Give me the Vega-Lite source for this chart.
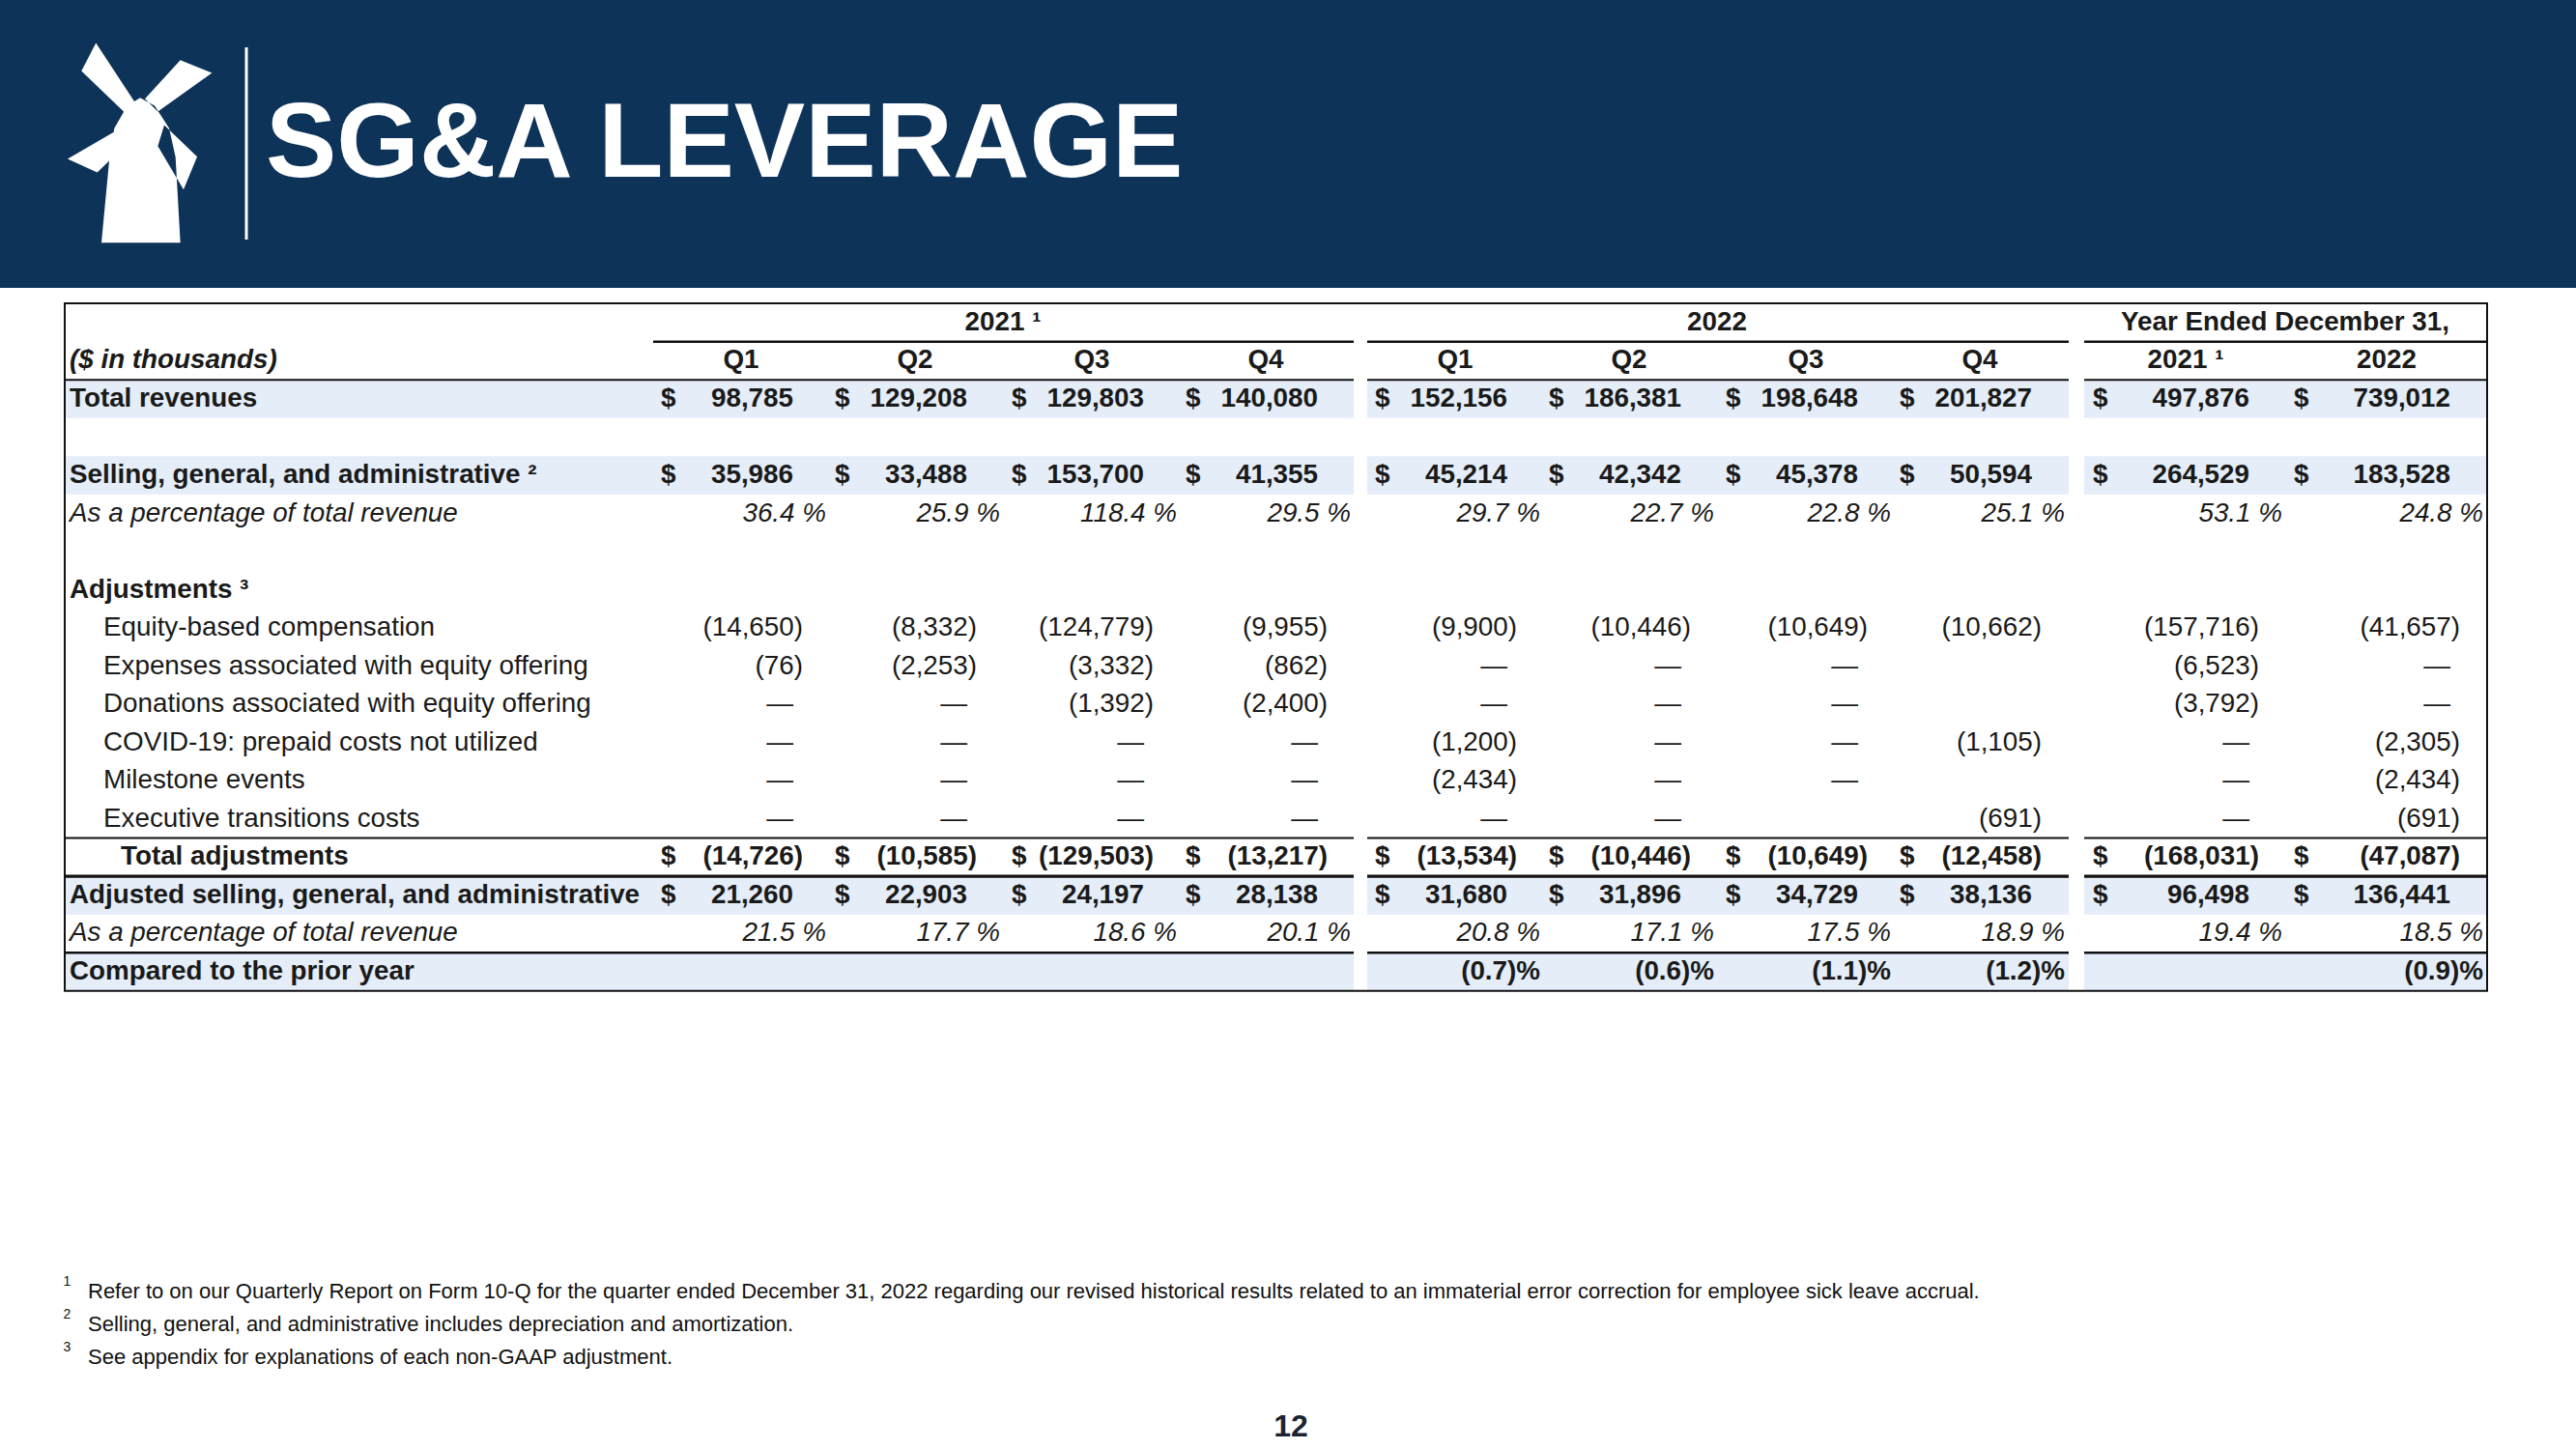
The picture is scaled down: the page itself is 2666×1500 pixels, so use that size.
{
"$schema": "https://vega.github.io/schema/vega-lite/v6.json",
"width": 2666,
"height": 1500,
"autosize": {"type": "none"},
"padding": 0,
"background": "#ffffff",
"config": {"view": {"stroke": null}, "text": {"font": "Liberation Sans", "color": "#1a1a1a", "fontSize": 27.8}},
"datasets": {
"bands": [
{"row": 1.5, "row2": 2.5, "col": 0, "col2": 4.4}, {"row": 1.5, "row2": 2.5, "col": 4.6, "col2": 8.4}, {"row": 1.5, "row2": 2.5, "col": 8.6, "col2": 10.5},
{"row": 3.5, "row2": 4.5, "col": 0, "col2": 4.4}, {"row": 3.5, "row2": 4.5, "col": 4.6, "col2": 8.4}, {"row": 3.5, "row2": 4.5, "col": 8.6, "col2": 10.5},
{"row": 14.5, "row2": 15.5, "col": 0, "col2": 4.4}, {"row": 14.5, "row2": 15.5, "col": 4.6, "col2": 8.4}, {"row": 14.5, "row2": 15.5, "col": 8.6, "col2": 10.5},
{"row": 16.5, "row2": 17.5, "col": 0, "col2": 4.4}, {"row": 16.5, "row2": 17.5, "col": 4.6, "col2": 8.4}, {"row": 16.5, "row2": 17.5, "col": 8.6, "col2": 10.5}
],
"lines": [
{"row": 0.5, "col": 0.8, "col2": 4.4}, {"row": 0.5, "col": 4.6, "col2": 8.4}, {"row": 0.5, "col": 8.6, "col2": 10.5},
{"row": 1.5, "col": 0, "col2": 4.4}, {"row": 1.5, "col": 4.6, "col2": 8.4}, {"row": 1.5, "col": 8.6, "col2": 10.5},
{"row": 13.5, "col": 0, "col2": 4.4}, {"row": 13.5, "col": 4.6, "col2": 8.4}, {"row": 13.5, "col": 8.6, "col2": 10.5},
{"row": 14.5, "col": 0, "col2": 4.4}, {"row": 14.5, "col": 4.6, "col2": 8.4}, {"row": 14.5, "col": 8.6, "col2": 10.5},
{"row": 16.5, "col": 0, "col2": 4.4}, {"row": 16.5, "col": 4.6, "col2": 8.4}, {"row": 16.5, "col": 8.6, "col2": 10.5}
],
"heads": [
{"row": 0, "col": 2, "t": "2021 ¹"}, {"row": 0, "col": 6, "t": "2022"}, {"row": 0, "col": 9, "t": "Year Ended December 31,"},
{"row": 1, "col": 1, "t": "Q1"}, {"row": 1, "col": 2, "t": "Q2"}, {"row": 1, "col": 3, "t": "Q3"}, {"row": 1, "col": 4, "t": "Q4"},
{"row": 1, "col": 5, "t": "Q1"}, {"row": 1, "col": 6, "t": "Q2"}, {"row": 1, "col": 7, "t": "Q3"}, {"row": 1, "col": 8, "t": "Q4"},
{"row": 1, "col": 9, "t": "2021 ¹"}, {"row": 1, "col": 10, "t": "2022"}
],
"labels": [
{"row": 1, "col": 0, "kind": "head", "t": "($ in thousands)"},
{"row": 2, "col": 0, "kind": "main", "t": "Total revenues"},
{"row": 4, "col": 0, "kind": "main", "t": "Selling, general, and administrative ²"},
{"row": 5, "col": 0, "kind": "pct", "t": "As a percentage of total revenue"},
{"row": 7, "col": 0, "kind": "main", "t": "Adjustments ³"},
{"row": 8, "col": 0, "kind": "item", "t": "Equity-based compensation"},
{"row": 9, "col": 0, "kind": "item", "t": "Expenses associated with equity offering"},
{"row": 10, "col": 0, "kind": "item", "t": "Donations associated with equity offering"},
{"row": 11, "col": 0, "kind": "item", "t": "COVID-19: prepaid costs not utilized"},
{"row": 12, "col": 0, "kind": "item", "t": "Milestone events"},
{"row": 13, "col": 0, "kind": "item", "t": "Executive transitions costs"},
{"row": 14, "col": 0, "kind": "total", "t": "Total adjustments"},
{"row": 15, "col": 0, "kind": "main", "t": "Adjusted selling, general, and administrative"},
{"row": 16, "col": 0, "kind": "pct", "t": "As a percentage of total revenue"},
{"row": 17, "col": 0, "kind": "main", "t": "Compared to the prior year"}
],
"cells": [
{"row": 2, "col": 1, "v": "98,785"}, {"row": 2, "col": 2, "v": "129,208"}, {"row": 2, "col": 3, "v": "129,803"}, {"row": 2, "col": 4, "v": "140,080"}, {"row": 2, "col": 5, "v": "152,156"}, {"row": 2, "col": 6, "v": "186,381"}, {"row": 2, "col": 7, "v": "198,648"}, {"row": 2, "col": 8, "v": "201,827"}, {"row": 2, "col": 9, "v": "497,876"}, {"row": 2, "col": 10, "v": "739,012"},
{"row": 4, "col": 1, "v": "35,986"}, {"row": 4, "col": 2, "v": "33,488"}, {"row": 4, "col": 3, "v": "153,700"}, {"row": 4, "col": 4, "v": "41,355"}, {"row": 4, "col": 5, "v": "45,214"}, {"row": 4, "col": 6, "v": "42,342"}, {"row": 4, "col": 7, "v": "45,378"}, {"row": 4, "col": 8, "v": "50,594"}, {"row": 4, "col": 9, "v": "264,529"}, {"row": 4, "col": 10, "v": "183,528"},
{"row": 5, "col": 1, "v": "36.4 %"}, {"row": 5, "col": 2, "v": "25.9 %"}, {"row": 5, "col": 3, "v": "118.4 %"}, {"row": 5, "col": 4, "v": "29.5 %"}, {"row": 5, "col": 5, "v": "29.7 %"}, {"row": 5, "col": 6, "v": "22.7 %"}, {"row": 5, "col": 7, "v": "22.8 %"}, {"row": 5, "col": 8, "v": "25.1 %"}, {"row": 5, "col": 9, "v": "53.1 %"}, {"row": 5, "col": 10, "v": "24.8 %"},
{"row": 8, "col": 1, "v": "(14,650)"}, {"row": 8, "col": 2, "v": "(8,332)"}, {"row": 8, "col": 3, "v": "(124,779)"}, {"row": 8, "col": 4, "v": "(9,955)"}, {"row": 8, "col": 5, "v": "(9,900)"}, {"row": 8, "col": 6, "v": "(10,446)"}, {"row": 8, "col": 7, "v": "(10,649)"}, {"row": 8, "col": 8, "v": "(10,662)"}, {"row": 8, "col": 9, "v": "(157,716)"}, {"row": 8, "col": 10, "v": "(41,657)"},
{"row": 9, "col": 1, "v": "(76)"}, {"row": 9, "col": 2, "v": "(2,253)"}, {"row": 9, "col": 3, "v": "(3,332)"}, {"row": 9, "col": 4, "v": "(862)"}, {"row": 9, "col": 5, "v": "—"}, {"row": 9, "col": 6, "v": "—"}, {"row": 9, "col": 7, "v": "—"}, {"row": 9, "col": 9, "v": "(6,523)"}, {"row": 9, "col": 10, "v": "—"},
{"row": 10, "col": 1, "v": "—"}, {"row": 10, "col": 2, "v": "—"}, {"row": 10, "col": 3, "v": "(1,392)"}, {"row": 10, "col": 4, "v": "(2,400)"}, {"row": 10, "col": 5, "v": "—"}, {"row": 10, "col": 6, "v": "—"}, {"row": 10, "col": 7, "v": "—"}, {"row": 10, "col": 9, "v": "(3,792)"}, {"row": 10, "col": 10, "v": "—"},
{"row": 11, "col": 1, "v": "—"}, {"row": 11, "col": 2, "v": "—"}, {"row": 11, "col": 3, "v": "—"}, {"row": 11, "col": 4, "v": "—"}, {"row": 11, "col": 5, "v": "(1,200)"}, {"row": 11, "col": 6, "v": "—"}, {"row": 11, "col": 7, "v": "—"}, {"row": 11, "col": 8, "v": "(1,105)"}, {"row": 11, "col": 9, "v": "—"}, {"row": 11, "col": 10, "v": "(2,305)"},
{"row": 12, "col": 1, "v": "—"}, {"row": 12, "col": 2, "v": "—"}, {"row": 12, "col": 3, "v": "—"}, {"row": 12, "col": 4, "v": "—"}, {"row": 12, "col": 5, "v": "(2,434)"}, {"row": 12, "col": 6, "v": "—"}, {"row": 12, "col": 7, "v": "—"}, {"row": 12, "col": 9, "v": "—"}, {"row": 12, "col": 10, "v": "(2,434)"},
{"row": 13, "col": 1, "v": "—"}, {"row": 13, "col": 2, "v": "—"}, {"row": 13, "col": 3, "v": "—"}, {"row": 13, "col": 4, "v": "—"}, {"row": 13, "col": 5, "v": "—"}, {"row": 13, "col": 6, "v": "—"}, {"row": 13, "col": 8, "v": "(691)"}, {"row": 13, "col": 9, "v": "—"}, {"row": 13, "col": 10, "v": "(691)"},
{"row": 14, "col": 1, "v": "(14,726)"}, {"row": 14, "col": 2, "v": "(10,585)"}, {"row": 14, "col": 3, "v": "(129,503)"}, {"row": 14, "col": 4, "v": "(13,217)"}, {"row": 14, "col": 5, "v": "(13,534)"}, {"row": 14, "col": 6, "v": "(10,446)"}, {"row": 14, "col": 7, "v": "(10,649)"}, {"row": 14, "col": 8, "v": "(12,458)"}, {"row": 14, "col": 9, "v": "(168,031)"}, {"row": 14, "col": 10, "v": "(47,087)"},
{"row": 15, "col": 1, "v": "21,260"}, {"row": 15, "col": 2, "v": "22,903"}, {"row": 15, "col": 3, "v": "24,197"}, {"row": 15, "col": 4, "v": "28,138"}, {"row": 15, "col": 5, "v": "31,680"}, {"row": 15, "col": 6, "v": "31,896"}, {"row": 15, "col": 7, "v": "34,729"}, {"row": 15, "col": 8, "v": "38,136"}, {"row": 15, "col": 9, "v": "96,498"}, {"row": 15, "col": 10, "v": "136,441"},
{"row": 16, "col": 1, "v": "21.5 %"}, {"row": 16, "col": 2, "v": "17.7 %"}, {"row": 16, "col": 3, "v": "18.6 %"}, {"row": 16, "col": 4, "v": "20.1 %"}, {"row": 16, "col": 5, "v": "20.8 %"}, {"row": 16, "col": 6, "v": "17.1 %"}, {"row": 16, "col": 7, "v": "17.5 %"}, {"row": 16, "col": 8, "v": "18.9 %"}, {"row": 16, "col": 9, "v": "19.4 %"}, {"row": 16, "col": 10, "v": "18.5 %"},
{"row": 17, "col": 5, "v": "(0.7)%"}, {"row": 17, "col": 6, "v": "(0.6)%"}, {"row": 17, "col": 7, "v": "(1.1)%"}, {"row": 17, "col": 8, "v": "(1.2)%"}, {"row": 17, "col": 10, "v": "(0.9)%"}
],
"notes": [
{"row": 18, "col": -5, "n": "1", "t": "Refer to  on our Quarterly Report on Form 10-Q for the quarter ended December 31, 2022 regarding our revised historical results related to an immaterial error correction for employee sick leave accrual."},
{"row": 19, "col": -5, "n": "2", "t": "Selling, general, and administrative includes depreciation and amortization."},
{"row": 20, "col": -5, "n": "3", "t": "See appendix for explanations of each non-GAAP adjustment."}
]
},
"encoding": {
"x": {"field": "col", "type": "quantitative", "axis": null, "scale": {"type": "linear", "zero": false, "nice": false,
 "domain": [-8, -7, -6, -5, -4, -3, -2, -1, 0, 0.8, 1, 2, 3, 4, 4.4, 4.6, 5, 6, 7, 8, 8.4, 8.6, 9, 10, 10.5],
 "range": [0, 2666, 69.5, 91, 144, 255, 275, 1336, 67, 676, 821, 1001, 1184, 1364, 1401, 1415, 1560, 1740, 1923, 2103, 2141, 2157, 2328, 2536, 2574]}},
"y": {"field": "row", "type": "quantitative", "axis": null, "scale": {"type": "linear", "zero": false, "nice": false,
 "domain": [-8, -7, -6, -5, -4, -3, -2, -0.5, 17.5, 18, 19, 20],
 "range": [0, 298, 148, 49, 248, 183, 1477, 314.1, 1025.7, 1337, 1371, 1405]}}
},
"layer": [
{"data": {"values": [{"part": "header", "col": -8, "col2": -7, "row": -8, "row2": -7}]},
 "mark": {"type": "rect", "color": "#0E3359"},
 "encoding": {"x2": {"field": "col2"}, "y2": {"field": "row2"}}},
{"data": {"values": [{"part": "logo", "col": -4, "row": -6}]},
 "mark": {"type": "point", "filled": true, "color": "#ffffff", "opacity": 1, "size": 42849, "strokeWidth": 0,
  "shape": "M-0.377,0.997L0.412,0.997L0.364,0.143L0.300,-0.147L0.155,-0.372L0.010,-0.452L-0.119,-0.372L-0.248,-0.147L-0.296,0.143Z M-0.432,-1L-0.577,-0.720L-0.142,-0.301L-0.045,-0.411Z M0.412,-0.829L0.728,-0.700L0.187,-0.314L0.058,-0.443Z M-0.715,0.159L-0.419,0.295L-0.103,-0.011L-0.216,-0.130Z M0.251,-0.179L0.580,0.137L0.444,0.465L0.187,0.031Z"}},
{"data": {"values": [{"part": "divider", "col": -3, "row": -5, "row2": -4}]},
 "mark": {"type": "rule", "color": "#ffffff", "strokeWidth": 3},
 "encoding": {"y2": {"field": "row2"}}},
{"data": {"values": [{"part": "title", "col": -2, "row": -3, "t": "SG&A LEVERAGE"}]},
 "mark": {"type": "text", "align": "left", "baseline": "alphabetic", "fontSize": 110, "fontWeight": "bold", "color": "#ffffff"},
 "encoding": {"text": {"field": "t"}}},
{"data": {"name": "bands"},
 "mark": {"type": "rect", "color": "#E4EDF8"},
 "encoding": {"x2": {"field": "col2"}, "y2": {"field": "row2"}}},
{"data": {"values": [{"part": "border", "col": 0, "col2": 10.5, "row": -0.5, "row2": 17.5}]},
 "mark": {"type": "rect", "filled": false, "color": "#111111", "strokeWidth": 2},
 "encoding": {"x2": {"field": "col2"}, "y2": {"field": "row2"}}},
{"data": {"name": "lines"}, "transform": [{"filter": "datum.row == 0.5 || datum.row == 16.5"}],
 "mark": {"type": "rule", "color": "#111111", "strokeWidth": 2.5},
 "encoding": {"x2": {"field": "col2"}}},
{"data": {"name": "lines"}, "transform": [{"filter": "datum.row == 1.5 || datum.row == 13.5"}],
 "mark": {"type": "rule", "color": "#111111", "strokeWidth": 2},
 "encoding": {"x2": {"field": "col2"}}},
{"data": {"name": "lines"}, "transform": [{"filter": "datum.row == 14.5"}],
 "mark": {"type": "rule", "color": "#111111", "strokeWidth": 3.2},
 "encoding": {"x2": {"field": "col2"}}},
{"data": {"name": "heads"}, "transform": [{"filter": "datum.row == 0"}],
 "mark": {"type": "text", "align": "center", "baseline": "middle", "fontWeight": "bold", "dx": 37},
 "encoding": {"text": {"field": "t"}}},
{"data": {"name": "heads"}, "transform": [{"filter": "datum.row == 1 && datum.col <= 8"}],
 "mark": {"type": "text", "align": "center", "baseline": "middle", "fontWeight": "bold", "dx": -54},
 "encoding": {"text": {"field": "t"}}},
{"data": {"name": "heads"}, "transform": [{"filter": "datum.row == 1 && datum.col >= 9"}],
 "mark": {"type": "text", "align": "center", "baseline": "middle", "fontWeight": "bold", "dx": -66},
 "encoding": {"text": {"field": "t"}}},
{"data": {"name": "labels"}, "transform": [{"filter": "datum.kind == 'main'"}],
 "mark": {"type": "text", "align": "left", "baseline": "middle", "fontWeight": "bold", "dx": 5},
 "encoding": {"text": {"field": "t"}}},
{"data": {"name": "labels"}, "transform": [{"filter": "datum.kind == 'head'"}],
 "mark": {"type": "text", "align": "left", "baseline": "middle", "fontWeight": "bold", "fontStyle": "italic", "dx": 5},
 "encoding": {"text": {"field": "t"}}},
{"data": {"name": "labels"}, "transform": [{"filter": "datum.kind == 'pct'"}],
 "mark": {"type": "text", "align": "left", "baseline": "middle", "fontStyle": "italic", "dx": 5},
 "encoding": {"text": {"field": "t"}}},
{"data": {"name": "labels"}, "transform": [{"filter": "datum.kind == 'item'"}],
 "mark": {"type": "text", "align": "left", "baseline": "middle", "dx": 40},
 "encoding": {"text": {"field": "t"}}},
{"data": {"name": "labels"}, "transform": [{"filter": "datum.kind == 'total'"}],
 "mark": {"type": "text", "align": "left", "baseline": "middle", "fontWeight": "bold", "dx": 58},
 "encoding": {"text": {"field": "t"}}},
{"data": {"name": "cells"}, "transform": [{"filter": "datum.row == 2 || datum.row == 4 || datum.row == 15"}],
 "mark": {"type": "text", "align": "right", "baseline": "middle", "fontWeight": "bold"},
 "encoding": {"text": {"field": "v"}}},
{"data": {"name": "cells"}, "transform": [{"filter": "datum.row == 14"}],
 "mark": {"type": "text", "align": "right", "baseline": "middle", "fontWeight": "bold", "dx": 10},
 "encoding": {"text": {"field": "v"}}},
{"data": {"name": "cells"}, "transform": [{"filter": "datum.row >= 8 && datum.row <= 13 && indexof(datum.v, ')') < 0"}],
 "mark": {"type": "text", "align": "right", "baseline": "middle"},
 "encoding": {"text": {"field": "v"}}},
{"data": {"name": "cells"}, "transform": [{"filter": "datum.row >= 8 && datum.row <= 13 && indexof(datum.v, ')') >= 0"}],
 "mark": {"type": "text", "align": "right", "baseline": "middle", "dx": 10},
 "encoding": {"text": {"field": "v"}}},
{"data": {"name": "cells"}, "transform": [{"filter": "datum.row == 5 || datum.row == 16"}],
 "mark": {"type": "text", "align": "right", "baseline": "middle", "fontStyle": "italic", "dx": 34},
 "encoding": {"text": {"field": "v"}}},
{"data": {"name": "cells"}, "transform": [{"filter": "datum.row == 17"}],
 "mark": {"type": "text", "align": "right", "baseline": "middle", "fontWeight": "bold", "dx": 34},
 "encoding": {"text": {"field": "v"}}},
{"data": {"name": "cells"}, "transform": [{"filter": "(datum.row == 2 || datum.row == 4 || datum.row == 14 || datum.row == 15) && datum.col <= 8"}],
 "mark": {"type": "text", "align": "left", "baseline": "middle", "fontWeight": "bold", "dx": -137, "text": "$"}},
{"data": {"name": "cells"}, "transform": [{"filter": "(datum.row == 2 || datum.row == 4 || datum.row == 14 || datum.row == 15) && datum.col >= 9"}],
 "mark": {"type": "text", "align": "left", "baseline": "middle", "fontWeight": "bold", "dx": -162, "text": "$"}},
{"data": {"name": "notes"},
 "mark": {"type": "text", "align": "left", "baseline": "middle", "fontSize": 22, "color": "#111111"},
 "encoding": {"text": {"field": "t"}}},
{"data": {"name": "notes"},
 "mark": {"type": "text", "align": "center", "baseline": "middle", "fontSize": 14, "color": "#111111", "dy": -10},
 "encoding": {"x": {"datum": -6}, "text": {"field": "n"}}},
{"data": {"values": [{"part": "page", "col": -1, "row": -2, "t": "12"}]},
 "mark": {"type": "text", "align": "center", "baseline": "middle", "fontSize": 32, "fontWeight": "bold", "color": "#1c2433"},
 "encoding": {"text": {"field": "t"}}}
]
}
